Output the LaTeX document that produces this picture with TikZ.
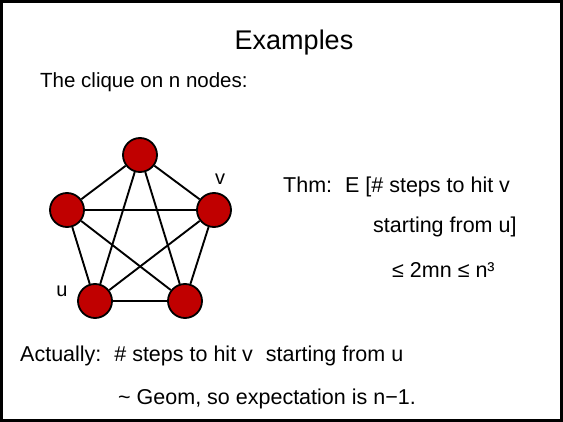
\documentclass[tikz,border=0pt]{standalone}
\usepackage{fontspec}
\setmainfont{Liberation Sans}
\definecolor{vertexred}{RGB}{192,0,0}
\begin{document}
\begin{tikzpicture}[x=1pt, y=-1pt,
    vertex/.style={circle, draw, line width=1.8pt, fill=vertexred, minimum size=34pt, inner sep=0pt},
    edge/.style={line width=1.9pt},
    txt/.style={anchor=base west, inner sep=0pt, font=\fontsize{21.5}{26}\selectfont}]
    % 边框
    \useasboundingbox (0, 0) rectangle (563, 422);
    \draw[line width=3pt] (1.5, 1.5) rectangle (561.5, 420.5);

    % 标题
    \node[anchor=base, inner sep=0pt, font=\fontsize{27}{32}\selectfont] (title) at (294, 50) {Examples};
    \node[txt, font=\fontsize{20.5}{24}\selectfont] (intro) at (40, 88) {The clique on n nodes:};

    % 完全图 K5
    \node[vertex] (top) at (140, 155) {};
    \node[vertex] (left) at (67, 210) {};
    \node[vertex] (right) at (214, 210) {};
    \node[vertex] (bl) at (95, 301) {};
    \node[vertex] (br) at (185, 301) {};
    \foreach \a/\b in {top/left, top/right, top/bl, top/br, left/right,
                       left/bl, left/br, right/bl, right/br, bl/br}
        \draw[edge] (\a) -- (\b);
    \node[anchor=base, inner sep=0pt, font=\fontsize{20}{24}\selectfont] (vlabel) at (220, 185) {v};
    \node[anchor=base, inner sep=0pt, font=\fontsize{20}{24}\selectfont] (ulabel) at (62, 297) {u};

    % 定理
    \node[txt] (thm) at (283, 193) {Thm:\hspace{0.6em}E [\# steps to hit v};
    \node[txt] (thm2) at (373, 233) {starting from u]};
    \node[txt] (thm3) at (392, 278) {≤ 2mn ≤ n³};

    % 结论
    \node[txt] (actual) at (20, 362) {Actually:\hspace{0.6em}\# steps to hit v\hspace{0.6em}starting from u};
    \node[txt] (geom) at (118, 405) {\textasciitilde{} Geom, so expectation is n−1.};
\end{tikzpicture}
\end{document}
